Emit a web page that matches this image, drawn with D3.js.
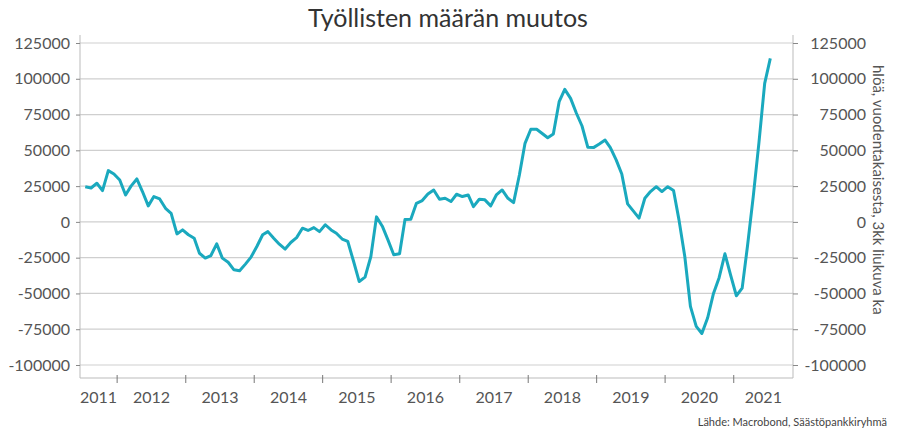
<!DOCTYPE html>
<html><head><meta charset="utf-8">
<script src="https://cdn.jsdelivr.net/npm/d3@7"></script>
<style>body{margin:0;background:#fff}text{font-family:"Lato","DejaVu Sans",sans-serif}</style>
</head><body><svg id="c" width="900" height="441"></svg>
<script>
const title = "Työllisten määrän muutos";
const yLabel = "hlöä, vuodentakaisesta, 3kk liukuva ka";
const source = "Lähde: Macrobond, Säästöpankkiryhmä";
const startYear = 2011, startMonth = 6; // July 2011
const values = [24.6,23.7,27,21.9,35.8,33.5,29.3,18.8,25,30,21.2,11.2,17.7,16,9.5,6,-8.4,-5.6,-9,-11.4,
-21.9,-25.3,-23.5,-15.4,-25.3,-28.2,-33.5,-34.2,-29.5,-24.6,-17.2,-9,-6.8,-11.4,-15.6,-19,-14.4,-11,-4.4,-6,
-4,-6.8,-2,-5.6,-7.9,-12,-13.7,-27.7,-41.7,-38.6,-24.2,3.5,-3,-12.6,-23,-22.3,1.6,1.9,13,14.9,
19.5,22.3,15.8,16.5,14.2,19.3,17.7,18.8,10.7,15.8,15.4,11.2,18.8,22.3,16.5,13.5,32.8,54.9,64.7,64.7,
61.9,58.8,61.4,84,92.6,86.3,75.9,67,52.1,51.9,54.4,57.2,51.9,43.3,33.5,12.6,7.7,2.6,16.5,21.2,
24.6,21.2,24.6,21.9,1.4,-24.2,-59,-73,-78,-67,-50,-39,-22.3,-37,-51.6,-46.3,-17.2,17.7,54.9,96.8,114.3].map(v=>v*1000);
const yTicks = [125000,100000,75000,50000,25000,0,-25000,-50000,-75000,-100000];
const years = [2011,2012,2013,2014,2015,2016,2017,2018,2019,2020,2021];

const data = values.map((v,i)=>({d:new Date(startYear,startMonth+i,15),v}));
const svg = d3.select("#c");
const L=80,R=793,T=43,B=365,axisY=378;
const x = d3.scaleTime().domain([new Date(2011,5,17),new Date(2021,10,13)]).range([L,R]);
const y = d3.scaleLinear().domain([-100000,125000]).range([B,T]);

svg.append("text").attr("x",448).attr("y",27).attr("text-anchor","middle").attr("font-size",25).attr("fill","#333").text(title);

// grid
svg.append("g").selectAll("line").data(yTicks).join("line")
 .attr("x1",L).attr("x2",R).attr("y1",d=>y(d)).attr("y2",d=>y(d)).attr("stroke","#cfcfcf").attr("stroke-width",1.2);
// axis lines
svg.append("line").attr("x1",L).attr("x2",L).attr("y1",T-8).attr("y2",axisY).attr("stroke","#bbb");
svg.append("line").attr("x1",R).attr("x2",R).attr("y1",T-8).attr("y2",axisY).attr("stroke","#bbb");
svg.append("line").attr("x1",L).attr("x2",R).attr("y1",axisY).attr("y2",axisY).attr("stroke","#bbb");

const fmt = d=>String(d);
const lg = svg.append("g").attr("transform",`translate(${L},0)`).call(d3.axisLeft(y).tickValues(yTicks).tickFormat(fmt).tickSize(4).tickPadding(6));
const rg = svg.append("g").attr("transform",`translate(${R},0)`).call(d3.axisRight(y).tickValues(yTicks).tickFormat(fmt).tickSize(5).tickPadding(14));
[lg,rg].forEach(g=>{g.select(".domain").remove();g.selectAll("line").attr("stroke","#888");g.selectAll("text").attr("font-size",16).attr("fill","#555").style("font-family","Lato, sans-serif");});
rg.selectAll("text").attr("text-anchor","end").attr("x",73);

// x axis
const yb = years.slice(1).map(yr=>new Date(yr,0,1));
svg.append("g").selectAll("line").data(yb).join("line")
 .attr("x1",d=>x(d)).attr("x2",d=>x(d)).attr("y1",axisY-3).attr("y2",axisY+5).attr("stroke","#777");
svg.append("g").selectAll("text").data(years).join("text")
 .attr("x",yr=>{const a=Math.max(x(new Date(yr,0,1)),L),b=Math.min(x(new Date(yr+1,0,1)),R);return (a+b)/2;})
 .attr("y",403).attr("text-anchor","middle").attr("font-size",16).attr("fill","#555").text(d=>d);

svg.append("path").datum(data).attr("fill","none").attr("stroke","#1aa9be").attr("stroke-width",3).attr("stroke-linejoin","round")
 .attr("d",d3.line().x(d=>x(d.d)).y(d=>y(d.v)));

svg.append("text").attr("transform","translate(873,65) rotate(90)").attr("font-size",15).attr("fill","#555").text(yLabel);
svg.append("text").attr("x",887).attr("y",426).attr("text-anchor","end").attr("font-size",11).attr("fill","#444").text(source);
</script></body></html>
